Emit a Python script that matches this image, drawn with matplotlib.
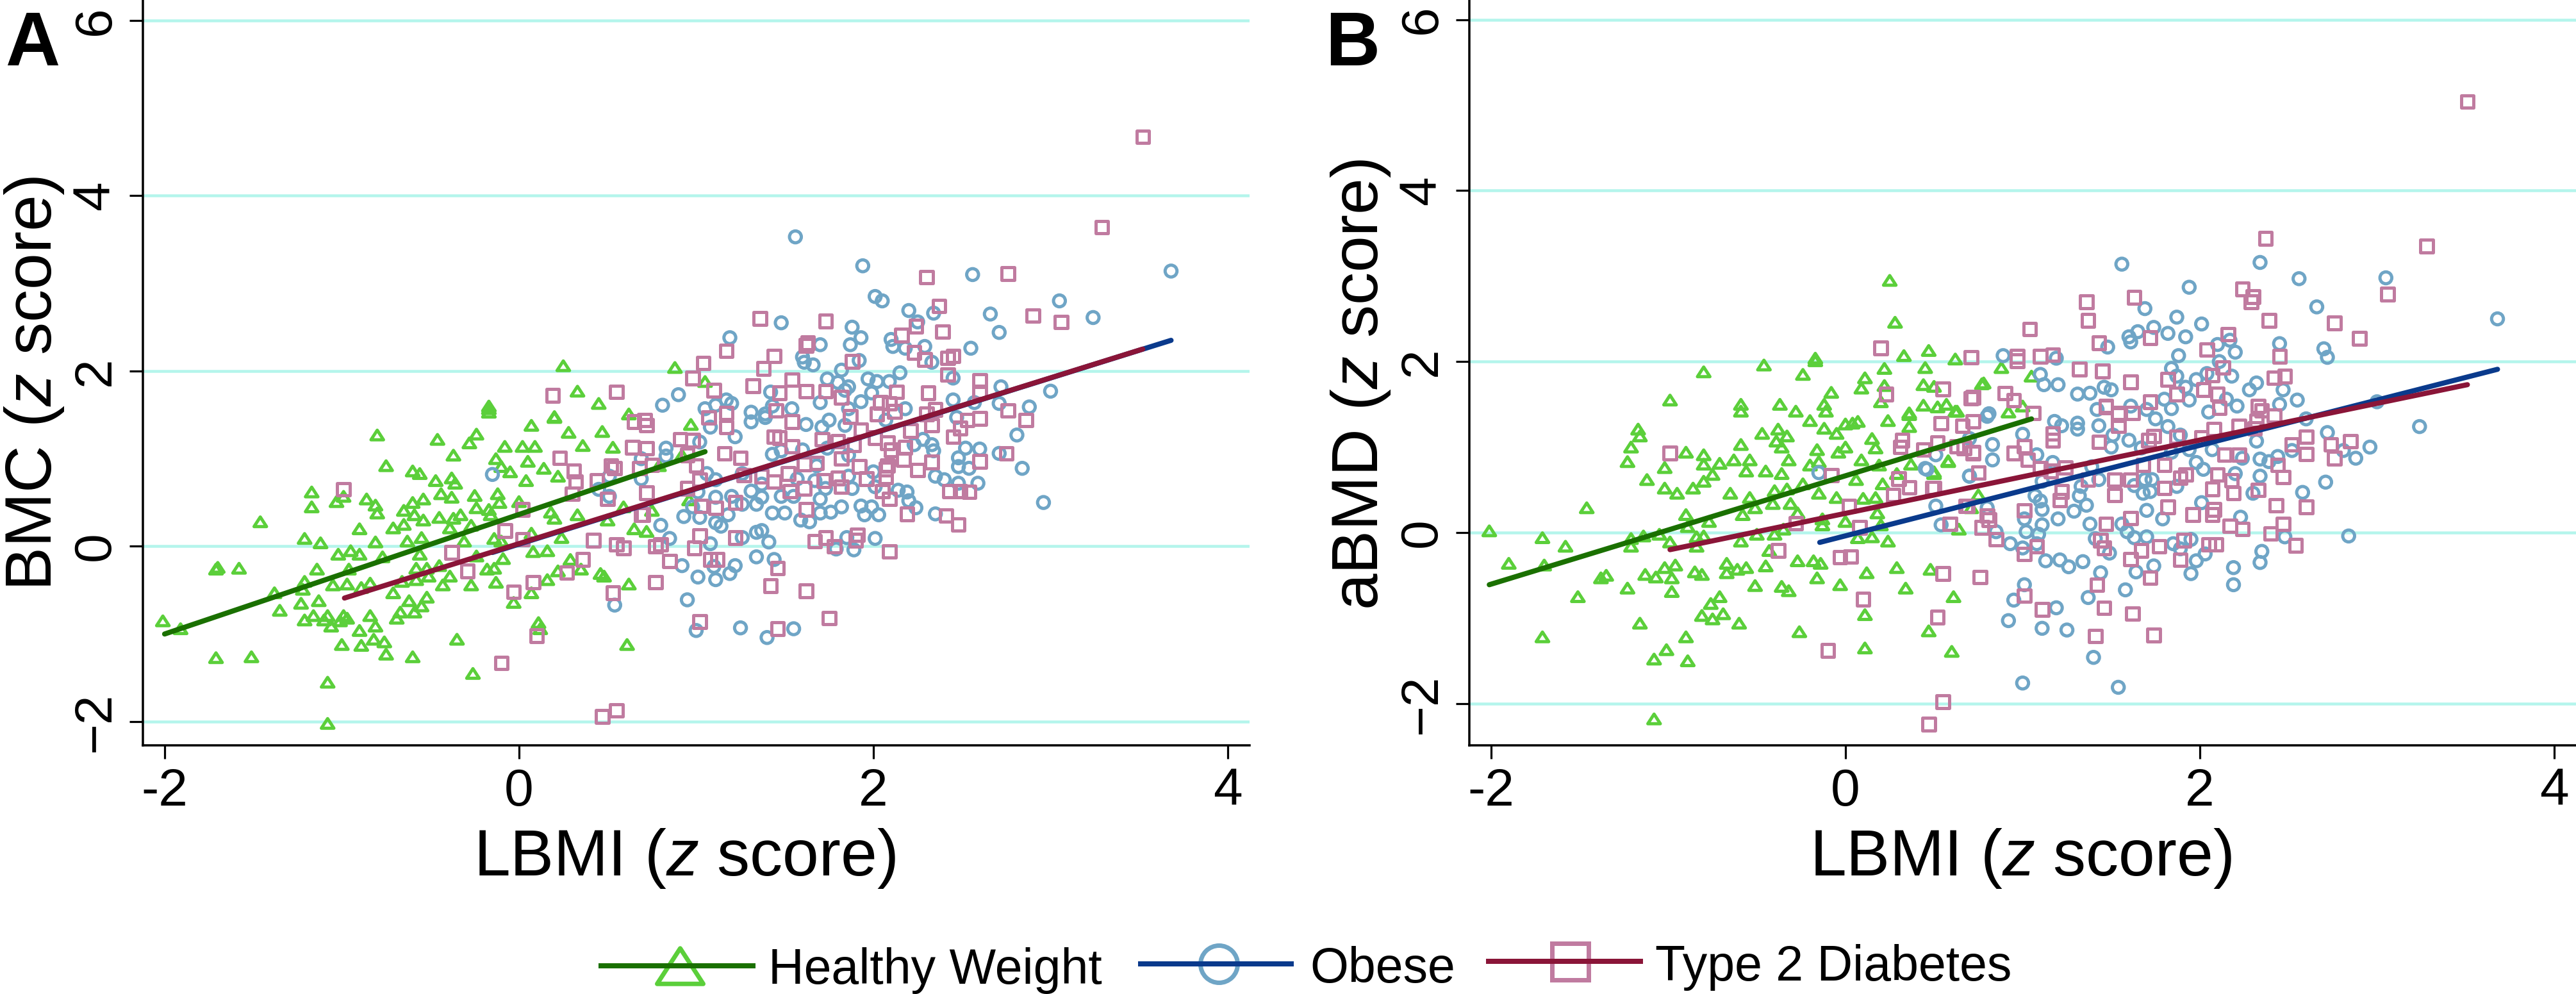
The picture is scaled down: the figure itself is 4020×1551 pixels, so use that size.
import numpy as np
import matplotlib
matplotlib.use("Agg")
import matplotlib.pyplot as plt
from matplotlib.lines import Line2D
from matplotlib.path import Path

# ---------- Panel A (LBMI z score, BMC z score) ----------
a_healthy = [(-2.01,-0.85),(-1.91,-0.94),(-1.70,-0.24),(-1.71,-0.26),(-1.58,-0.25),(-1.71,-1.27),(-1.51,-1.26),(-1.46,0.28),
(-1.21,0.09),(-1.12,0.04),(-1.38,-0.53),(-1.35,-0.73),(-1.22,-0.49),(-1.21,-0.40),(-1.23,-0.65),(-1.21,-0.84),(-1.13,-0.62),
(-1.16,-0.79),(-1.14,-0.26),(-1.17,0.62),(-1.17,0.45),(-1.03,0.51),(-0.99,0.57),(-0.80,1.27),(-0.75,0.92),(-0.86,0.54),
(-0.81,0.47),(-0.80,0.38),(-0.90,0.20),(-0.71,0.21),(-0.65,0.25),(-0.81,0.05),(-0.63,0.06),(-0.55,0.10),(-0.56,-0.09),
(-0.77,-0.12),(-0.90,-0.09),(-0.95,-0.05),(-1.02,-0.09),(-0.96,-0.26),(-0.97,-0.43),(-1.05,-0.44),(-0.84,-0.42),(-0.89,-0.47),
(-0.99,-0.79),(-1.08,-0.79),(-1.10,-0.84),(-1.06,-0.91),(-1.01,-0.85),(-0.97,-0.82),(-0.84,-0.79),(-0.81,-0.91),(-0.90,-0.96),
(-0.82,-1.06),(-0.76,-1.09),(-1.00,-1.12),(-0.89,-1.13),(-0.75,-1.23),(-0.60,-1.26),(-0.35,-1.06),(-0.26,-1.45),(-1.08,-1.55),
(-1.08,-2.02),(0.11,-0.87),(0.12,-0.94),(0.61,-1.12),(-0.60,0.86),(-0.56,0.83),(-0.46,1.22),(-0.37,1.04),(-0.28,1.18),
(-0.24,1.28),(-0.17,1.57),(-0.17,1.53),(-0.13,1.00),(-0.10,0.91),(-0.05,0.85),(-0.08,1.14),(0.02,1.14),(0.09,1.14),(0.05,0.97),
(0.07,1.38),(0.20,1.47),(0.28,1.30),(0.36,1.15),(0.47,1.31),(0.53,1.13),(0.62,1.51),(0.45,1.63),(0.33,1.77),(0.14,0.89),
(0.22,0.80),(0.04,0.75),(-0.47,0.75),(-0.38,0.78),(-0.36,0.72),(-0.44,0.60),(-0.38,0.56),(-0.25,0.58),(-0.12,0.60),(-0.54,0.54),
(-0.60,0.50),(-0.65,0.41),(-0.59,0.36),(-0.54,0.30),(-0.45,0.33),(-0.37,0.32),(-0.33,0.36),(-0.24,0.44),(-0.17,0.42),(-0.16,0.36),
(-0.11,0.50),(0.00,0.51),(0.18,0.39),(0.20,0.32),(0.33,0.36),(0.50,0.30),(0.59,0.45),(0.65,0.20),(-0.39,0.21),(-0.27,0.24),
(-0.31,0.06),(-0.14,0.09),(-0.10,0.06),(0.07,0.15),(0.24,0.10),(0.08,-0.06),(0.16,-0.05),(0.29,-0.15),(0.35,-0.26),(0.46,-0.31),
(0.48,-0.34),(0.62,-0.43),(0.22,-0.28),(0.16,-0.38),(0.07,-0.53),(-0.03,-0.64),(-0.13,-0.41),(-0.27,-0.44),(-0.43,-0.44),
(-0.39,-0.34),(-0.51,-0.34),(-0.58,-0.25),(-0.52,-0.25),(-0.45,-0.22),(-0.18,-0.26),(-0.14,-0.25),(-0.09,-0.14),(-0.24,-0.11),
(-0.58,-0.38),(-0.66,-0.40),(-0.71,-0.53),(-0.52,-0.58),(-0.62,-0.62),(-0.55,-0.68),(-0.59,-0.75),(-0.67,-0.75),(-0.69,-0.82),
(0.25,2.06),(-0.17,1.60),(0.20,1.48),(0.88,2.04),(1.05,1.88),(0.97,1.39),(0.92,1.04),(0.79,0.92),(0.75,0.41),(0.72,0.17),(0.96,0.53)]

a_obese = [(1.56,3.53),(1.94,3.20),(2.56,3.10),(3.68,3.14),(2.01,2.85),(2.05,2.80),(2.20,2.69),(2.34,2.66),(2.66,2.65),(3.05,2.80),
(3.24,2.61),(2.71,2.44),(2.25,2.56),(1.48,2.55),(1.19,2.38),(1.88,2.50),(1.93,2.38),(1.87,2.30),(1.70,2.30),(2.10,2.36),(2.11,2.28),
(2.18,2.26),(2.29,2.28),(2.55,2.26),(1.60,2.16),(1.61,2.10),(1.66,2.07),(1.92,2.12),(2.33,2.10),(1.82,2.01),(2.15,1.98),(1.74,1.91),
(2.45,1.92),(1.97,1.91),(2.02,1.88),(2.09,1.88),(1.86,1.82),(1.84,1.78),(1.80,1.87),(1.99,1.75),(2.72,1.82),(3.00,1.77),(1.42,1.76),
(0.90,1.73),(0.81,1.61),(1.17,1.67),(1.20,1.63),(1.70,1.64),(1.93,1.65),(2.45,1.67),(2.57,1.64),(2.71,1.63),(2.88,1.59),(1.05,1.57),
(1.11,1.61),(1.43,1.60),(1.54,1.57),(1.31,1.53),(2.18,1.57),(1.39,1.51),(1.86,1.57),(1.62,1.39),(1.31,1.42),(1.39,1.47),(1.08,1.36),
(1.22,1.25),(1.02,1.19),(0.83,1.12),(0.83,1.03),(1.75,1.44),(1.84,1.38),(1.71,1.36),(2.07,1.44),(2.47,1.47),(2.81,1.27),(2.60,1.11),
(2.71,1.06),(2.48,1.01),(2.52,1.12),(2.34,1.09),(2.33,1.16),(2.28,1.22),(2.23,1.16),(2.48,0.91),(2.54,0.89),(2.84,0.89),(2.35,0.80),
(2.40,0.76),(2.59,0.72),(2.48,0.72),(2.96,0.50),(2.19,0.62),(2.14,0.64),(2.20,0.52),(2.24,0.44),(2.35,0.37),(2.03,0.36),(1.99,0.45),
(1.93,0.46),(1.95,0.36),(1.82,0.45),(1.76,0.39),(1.70,0.38),(1.70,0.54),(1.64,0.28),(1.59,0.30),(1.50,0.38),(1.43,0.38),(1.34,0.48),
(1.26,0.48),(1.37,0.56),(1.31,0.63),(1.20,0.57),(1.11,0.56),(1.48,0.57),(1.55,0.57),(1.37,0.71),(1.26,0.83),(1.11,0.76),(1.06,0.83),
(1.01,0.62),(0.98,0.45),(0.93,0.34),(1.02,0.33),(1.18,0.36),(1.11,0.27),(1.14,0.23),(0.80,0.24),(0.85,0.09),(1.08,0.03),(1.26,0.10),
(1.34,0.16),(1.37,0.18),(1.41,0.05),(1.34,-0.12),(1.44,-0.15),(1.22,-0.22),(1.19,-0.31),(1.10,-0.23),(0.92,-0.22),(1.01,-0.35),
(1.11,-0.38),(0.95,-0.61),(1.00,-0.96),(1.25,-0.93),(1.40,-1.04),(1.55,-0.94),(1.89,-0.04),(1.79,-0.03),(1.85,0.10),(2.01,0.09),
(1.43,1.05),(1.48,1.09),(1.60,1.10),(1.74,1.12),(1.86,1.04),(1.68,0.92),(1.57,0.77),(1.67,0.75),(1.86,0.80),(2.00,0.85),(1.88,0.66),
(2.01,0.68),(1.73,0.66),(-0.15,0.82),(0.54,-0.67),(0.45,0.65),(0.51,0.57),(0.51,0.80),(0.69,0.77),(0.69,1.00)]

a_t2d = [(3.52,4.67),(3.29,3.64),(2.30,3.07),(2.76,3.11),(2.37,2.74),(2.90,2.63),(3.06,2.56),(1.36,2.60),(1.73,2.57),(2.24,2.51),
(2.39,2.45),(2.16,2.41),(1.63,2.32),(1.62,2.29),(1.17,2.23),(1.44,2.17),(1.04,2.09),(1.38,2.03),(0.98,1.92),(1.88,2.11),(2.23,2.21),
(2.29,2.13),(2.42,2.15),(2.45,2.17),(2.42,1.96),(2.60,1.89),(2.60,1.76),(1.54,1.90),(1.32,1.83),(1.47,1.75),(1.62,1.77),(1.73,1.77),
(1.82,1.70),(2.13,1.76),(2.31,1.75),(2.04,1.64),(2.09,1.63),(1.10,1.78),(1.45,1.55),(1.17,1.52),(1.07,1.47),(1.17,1.36),(1.54,1.42),
(1.87,1.48),(2.02,1.51),(2.12,1.54),(2.30,1.51),(2.35,1.56),(2.53,1.44),(2.60,1.46),(2.76,1.55),(2.86,1.44),(2.33,1.38),(2.49,1.35),
(2.45,1.25),(2.21,1.32),(1.93,1.33),(2.01,1.24),(1.89,1.16),(1.80,1.20),(1.71,1.22),(1.47,1.24),(1.44,1.25),(1.54,1.14),(2.08,1.18),
(2.10,1.10),(2.18,1.13),(2.17,0.99),(1.82,1.00),(1.68,0.95),(1.61,0.94),(1.92,0.91),(2.08,0.92),(2.07,0.88),(2.33,0.96),(2.60,0.97),
(2.75,1.06),(2.25,0.87),(2.07,0.79),(1.96,0.77),(1.80,0.78),(1.72,0.75),(1.52,0.83),(1.44,0.74),(1.37,0.80),(1.27,0.81),(1.25,1.01),
(1.16,1.06),(1.00,0.92),(1.02,0.76),(0.95,0.66),(0.91,1.22),(0.98,1.21),(0.95,1.04),(0.75,0.93),(0.72,1.12),(0.72,1.38),(0.71,1.44),
(0.72,0.61),(0.70,0.36),(1.03,0.46),(1.11,0.44),(1.22,0.50),(1.53,0.63),(1.61,0.66),(1.82,0.68),(2.05,0.63),(2.09,0.54),(1.62,0.42),
(2.19,0.37),(2.43,0.63),(2.49,0.63),(2.54,0.62),(2.41,0.35),(2.48,0.25),(1.02,0.12),(1.22,0.10),(0.80,0.02),(0.77,0.00),(0.99,-0.02),
(1.12,-0.15),(1.08,-0.15),(0.85,-0.17),(0.77,-0.41),(1.46,-0.25),(1.42,-0.45),(1.62,-0.51),(1.02,-0.86),(1.46,-0.94),(1.75,-0.82),
(1.73,0.10),(1.67,0.06),(1.78,0.00),(1.91,0.13),(1.90,0.07),(2.09,-0.06),(-0.99,0.65),(-0.38,-0.07),(-0.29,-0.28),(-0.08,0.18),
(0.02,0.42),(0.02,0.08),(-0.03,-0.52),(0.08,-0.41),(0.27,-0.30),(0.36,-0.15),(0.42,0.07),(0.55,0.02),(0.59,-0.02),(0.53,-0.53),
(0.10,-1.02),(-0.10,-1.33),(0.47,-1.94),(0.55,-1.87),(0.23,1.01),(0.31,0.86),(0.32,0.74),(0.30,0.60),(0.44,0.75),(0.50,0.54),
(0.52,0.92),(0.54,0.89),(0.65,1.42),(0.64,1.13),(0.68,0.89),(0.69,0.36),(0.19,1.72),(0.55,1.76)]

a_fit_x = {"healthy": [-2.0, 1.05], "obese": [-0.15, 3.68], "t2d": [-0.985, 3.52]}
a_fit_y = {"healthy": [-1.00, 1.08], "obese": [-0.07, 2.35], "t2d": [-0.59, 2.25]}

# ---------- Panel B (LBMI z score, aBMD z score) ----------
b_healthy = [(0.25,2.95),(0.28,2.46),(-0.17,2.04),(-0.17,2.01),(-0.46,1.96),(-0.80,1.88),(-0.24,1.85),(0.11,1.81),(0.09,1.69),
(-0.08,1.64),(-0.99,1.55),(-0.59,1.50),(-0.59,1.42),(-0.37,1.50),(-0.28,1.42),(-0.12,1.50),(-0.11,1.42),(0.22,1.92),(0.33,2.07),
(0.47,2.13),(0.62,2.03),(0.45,1.93),(0.22,1.72),(0.44,1.73),(0.50,1.71),(0.20,1.53),(0.44,1.49),(0.57,1.50),(0.52,1.47),(0.77,1.74),
(0.36,1.40),(0.63,1.42),(-2.01,0.02),(-1.90,-0.36),(-1.71,-0.06),(-1.70,-0.38),(-1.58,-0.16),(-1.46,0.29),(-1.38,-0.53),(-1.35,-0.50),
(-1.51,-0.75),(-1.71,-1.22),(-1.23,0.83),(-1.21,1.00),(-1.17,1.21),(-1.16,1.13),(-1.12,0.62),(-1.02,0.52),(-0.95,0.46),(-1.02,0.76),
(-0.90,0.94),(-0.86,0.52),(-0.80,0.91),(-0.80,0.80),(-0.80,0.60),(-0.75,0.68),(-0.71,0.81),(-0.63,0.85),(-0.59,1.03),(-0.54,0.85),
(-0.56,0.72),(-0.65,0.46),(-0.47,1.16),(-0.38,1.21),(-0.39,1.07),(-0.33,1.13),(-0.36,1.00),(-0.32,0.85),(-0.45,0.72),(-0.36,0.69),
(-0.20,1.31),(-0.12,1.22),(-0.05,1.16),(-0.16,0.97),(-0.04,0.94),(0.00,1.00),(0.00,1.27),(0.04,1.28),(0.07,1.30),(0.15,1.10),(0.17,0.99),
(0.24,1.31),(0.36,1.38),(0.36,1.24),(-0.20,0.79),(-0.15,0.83),(0.09,0.85),(0.19,0.79),(0.37,0.80),(0.50,0.71),(0.58,0.83),(0.06,0.62),
(0.21,0.57),(0.29,0.69),(-0.24,0.57),(-0.40,0.49),(-0.33,0.51),(-0.54,0.41),(-0.41,0.34),(-0.31,0.34),(-0.15,0.46),(-0.05,0.41),
(0.10,0.40),(0.17,0.41),(-0.58,0.21),(-0.51,0.29),(-0.90,0.21),(-0.77,0.13),(-0.89,0.07),(-0.27,0.23),(0.18,0.23),(0.00,0.13),
(-0.13,0.16),(-0.13,0.09),(0.20,0.09),(-1.14,-0.04),(-1.05,-0.02),(-1.21,-0.07),(-1.21,-0.16),(-0.99,-0.11),(-0.84,-0.16),(-0.84,-0.05),
(-0.80,-0.04),(-0.59,-0.10),(-0.50,-0.02),(-0.40,-0.02),(-0.35,0.04),(-0.43,-0.21),(0.07,-0.06),(0.15,-0.05),(0.24,-0.10),(-0.96,-0.38),
(-1.02,-0.41),(-1.13,-0.49),(-1.07,-0.52),(-0.98,-0.53),(-0.85,-0.46),(-0.81,-0.49),(-0.67,-0.36),(-0.67,-0.47),(-0.61,-0.43),
(-0.56,-0.41),(-0.45,-0.39),(-0.27,-0.33),(-0.18,-0.33),(-0.14,-0.36),(-0.16,-0.53),(0.12,-0.47),(0.29,-0.41),(0.48,-0.43),(-0.03,-0.61),
(0.34,-0.65),(0.61,-0.75),(-1.23,-0.65),(-0.98,-0.69),(-0.51,-0.62),(-0.36,-0.63),(-0.32,-0.68),(-0.71,-0.75),(-0.76,-0.83),(-0.81,-0.97),
(-0.69,-0.95),(-0.75,-1.01),(-0.60,-1.06),(-1.16,-1.06),(-0.90,-1.22),(-1.01,-1.37),(-1.08,-1.48),(-0.89,-1.50),(-0.26,-1.16),(0.11,-0.96),
(0.47,-1.15),(0.11,-1.35),(0.60,-1.39),(-1.08,-2.18),(0.88,1.93),(0.78,1.75),(1.05,1.83),(1.00,1.48),(0.92,1.41),(0.58,0.84),(0.75,0.44),
(0.71,0.29),(0.64,0.04),(0.62,1.42),(0.50,0.69)]

b_obese = [(3.68,2.50),(3.05,2.98),(2.56,2.97),(2.34,3.16),(1.56,3.14),(2.66,2.64),(1.94,2.87),(1.69,2.62),(1.87,2.52),(2.01,2.44),
(1.65,2.35),(1.74,2.40),(1.82,2.33),(1.92,2.29),(1.60,2.29),(1.61,2.23),(1.48,2.17),(2.45,2.21),(2.70,2.15),(2.72,2.05),(2.10,2.20),
(2.17,2.25),(2.20,2.11),(1.88,2.07),(0.89,2.07),(1.19,2.04),(2.11,2.00),(1.84,1.92),(1.10,1.85),(1.12,1.73),(1.20,1.73),(1.31,1.62),
(1.38,1.63),(1.46,1.70),(1.50,1.67),(1.87,1.83),(1.98,1.79),(1.92,1.70),(2.18,1.83),(2.04,1.86),(2.32,1.75),(2.28,1.67),(2.47,1.67),
(2.55,1.55),(3.00,1.53),(1.80,1.56),(1.94,1.55),(2.15,1.56),(2.21,1.48),(2.45,1.50),(1.84,1.45),(1.61,1.48),(1.42,1.44),(1.70,1.44),
(0.81,1.39),(2.05,1.41),(3.24,1.24),(2.72,1.17),(2.60,1.33),(2.96,1.00),(2.88,0.87),(2.81,0.96),(2.71,0.59),(2.58,0.47),(2.84,-0.04),
(2.48,-0.05),(2.35,-0.22),(2.34,-0.35),(2.19,-0.41),(2.19,-0.61),(1.95,-0.48),(1.74,-0.39),(1.64,-0.46),(1.44,-0.47),(1.58,-0.67),
(1.37,-0.76),(1.19,-0.88),(0.95,-0.79),(1.01,-0.61),(0.92,-1.03),(1.11,-1.12),(1.25,-1.14),(1.40,-1.46),(1.00,-1.76),(1.54,-1.81),
(1.13,-0.33),(1.21,-0.32),(1.26,-0.40),(1.34,-0.34),(0.93,-0.13),(1.00,-0.18),(1.08,-0.13),(0.85,0.01),(1.02,0.01),(1.09,-0.02),
(1.38,0.10),(1.41,-0.07),(1.49,-0.24),(1.59,0.01),(1.63,-0.06),(1.70,-0.05),(1.56,0.10),(1.85,-0.13),(1.89,-0.19),(1.95,-0.08),
(1.98,-0.33),(2.03,-0.25),(1.70,0.26),(1.79,0.16),(1.29,0.25),(1.36,0.32),(1.20,0.16),(1.11,0.27),(1.11,0.09),(1.01,0.16),(0.80,0.29),
(0.51,0.31),(0.54,0.09),(1.07,0.43),(1.10,0.37),(1.32,0.43),(1.33,0.54),(1.43,0.62),(1.63,0.55),(1.68,0.46),(1.72,0.48),(1.69,0.62),
(1.73,0.62),(1.87,0.54),(2.01,0.35),(2.23,0.18),(2.30,0.46),(2.34,0.66),(2.20,0.69),(2.02,0.74),(1.98,0.82),(1.84,0.94),(1.94,0.97),
(2.24,0.87),(2.34,0.86),(2.39,0.83),(2.44,0.89),(2.52,0.96),(2.32,1.07),(2.07,0.97),(1.60,1.08),(1.50,1.00),(1.67,0.99),(1.39,0.77),
(1.17,0.82),(1.11,0.60),(0.83,1.03),(0.83,0.85),(0.70,0.66),(1.00,1.15),(1.08,0.91),(1.18,1.30),(1.31,1.28),(1.31,1.21),(1.22,1.25),
(1.43,1.25),(1.51,1.14),(1.75,1.33),(1.82,1.24),(1.89,1.14),(0.46,0.74),(-0.15,0.70),(0.51,0.91),(0.45,0.75),(0.70,1.10),(0.70,0.66),(0.80,1.36)]

b_t2d = [(3.51,5.04),(3.28,3.35),(2.37,3.44),(2.24,2.85),(2.30,2.76),(2.29,2.70),(3.06,2.79),(1.36,2.70),(1.63,2.75),(1.37,2.48),
(2.39,2.48),(2.76,2.45),(1.04,2.38),(2.90,2.27),(2.16,2.32),(1.72,2.28),(1.43,2.22),(2.04,2.14),(2.45,2.06),(0.97,2.06),(0.97,2.01),
(1.10,2.06),(1.17,2.08),(0.71,2.05),(1.32,1.91),(1.45,1.89),(2.13,1.93),(2.48,1.83),(2.42,1.81),(2.07,1.84),(1.82,1.79),(1.61,1.76),
(0.90,1.63),(0.55,1.68),(0.71,1.57),(0.95,1.55),(2.02,1.67),(2.10,1.62),(1.87,1.62),(1.72,1.53),(1.47,1.48),(2.33,1.48),(2.35,1.43),
(2.11,1.46),(1.06,1.40),(1.54,1.40),(1.62,1.40),(2.42,1.37),(0.20,2.16),(0.23,1.62),(0.72,1.58),(-0.99,0.93),(-0.08,0.67),(0.32,1.08),
(0.31,1.00),(0.44,0.97),(0.52,1.05),(0.54,1.28),(0.66,1.25),(0.72,1.30),(0.63,1.01),(0.67,0.99),(0.72,0.94),(0.30,0.63),(0.36,0.53),
(0.27,0.44),(0.50,0.52),(0.75,0.70),(0.02,0.31),(-0.28,0.11),(0.08,0.06),(-0.38,-0.21),(-0.03,-0.29),(0.03,-0.28),(0.55,-0.48),
(0.76,-0.52),(0.10,-0.78),(0.52,-0.99),(-0.10,-1.38),(0.55,-1.98),(0.47,-2.24),(0.69,0.31),(0.59,0.10),(0.77,0.06),(0.80,0.20),
(1.01,1.01),(1.03,0.85),(0.95,0.93),(0.72,0.93),(1.17,1.08),(1.17,1.16),(1.43,1.06),(1.71,1.08),(1.74,1.13),(1.87,1.12),(2.01,1.11),
(2.08,1.21),(2.22,1.25),(2.31,1.22),(2.32,1.31),(1.54,1.25),(1.54,1.38),(1.47,1.47),(2.14,0.91),(2.22,0.91),(2.60,1.12),(2.52,1.03),
(2.60,0.92),(2.74,1.03),(2.76,0.87),(2.85,1.07),(2.44,0.79),(2.47,0.65),(1.68,0.79),(1.80,0.79),(1.89,0.64),(1.92,0.68),(2.10,0.68),
(2.18,0.61),(2.07,0.51),(2.19,0.46),(2.33,0.50),(1.80,0.52),(1.61,0.62),(1.52,0.62),(1.37,0.62),(1.52,0.44),(1.24,0.76),(1.16,0.72),
(1.10,0.75),(1.22,0.48),(1.21,0.38),(1.01,0.26),(0.75,0.70),(0.49,0.52),(0.68,0.31),(0.81,0.15),(0.59,0.10),(0.77,0.06),(0.85,-0.08),
(1.01,-0.25),(1.08,-0.16),(1.44,-0.09),(1.46,-0.18),(1.47,0.10),(1.61,0.17),(1.82,0.30),(1.96,0.21),(2.07,0.21),(2.08,0.27),(2.17,0.08),
(2.24,0.04),(2.40,-0.01),(2.47,0.10),(2.43,0.32),(2.60,0.30),(2.54,-0.15),(1.67,-0.21),(1.61,-0.31),(1.77,-0.16),(1.91,-0.09),(2.05,-0.14),
(2.09,-0.14),(1.89,-0.32),(1.72,-0.53),(1.42,-0.61),(1.46,-0.88),(1.62,-0.95),(1.11,-0.90),(1.01,-0.74),(1.41,-1.21),(1.74,-1.20)]

b_fit_x = {"healthy": [-2.01, 1.05], "obese": [-0.145, 3.68], "t2d": [-0.99, 3.51]}
b_fit_y = {"healthy": [-0.61, 1.33], "obese": [-0.115, 1.91], "t2d": [-0.20, 1.73]}

x_ticks = [-2, 0, 2, 4]
y_ticks = [-2, 0, 2, 4, 6]
group_names = ["Healthy Weight", "Obese", "Type 2 Diabetes"]

# ---------- Styles ----------
W, H, DPI = 4020, 1551, 100
PX = 72 / DPI  # points per pixel
plt.rcParams["font.family"] = ["Liberation Sans", "DejaVu Sans"]
plt.rcParams["mathtext.fontset"] = "custom"
plt.rcParams["mathtext.rm"] = "Liberation Sans"
plt.rcParams["mathtext.it"] = "Liberation Sans:italic"

MK = {"healthy": "#5BCF3A", "obese": "#6FA5C6", "t2d": "#C07BA0"}
LN = {"healthy": "#1A7000", "obese": "#0A3A8C", "t2d": "#8A1538"}
GRID = "#B4F5EC"

# Wide triangle: the reference's markers are wider than they are tall
TRI = Path([(-1, -0.77), (1, -0.77), (0, 0.77), (-1, -0.77)], closed=True)

fig = plt.figure(figsize=(W / DPI, H / DPI), dpi=DPI, facecolor="white")


def make_axes(left, right, top, bottom):
    return fig.add_axes([left / W, 1 - bottom / H, (right - left) / W, (bottom - top) / H])


def draw_panel(ax, ylim, healthy, obese, t2d, fx, fy):
    ax.set_xlim(-2.124, 4.123)
    ax.set_ylim(*ylim)
    for t in y_ticks:
        ax.axhline(t, color=GRID, lw=4.5 * PX, zorder=1)
    for pts, key, marker, size in ((healthy, "healthy", TRI, 19.5), (obese, "obese", "o", 18.5), (t2d, "t2d", "s", 19.5)):
        arr = np.array(pts)
        ax.scatter(arr[:, 0], arr[:, 1], marker=marker, s=(size * PX) ** 2, facecolors="none",
                   edgecolors=MK[key], linewidths=5 * PX, zorder=3, clip_on=False)
    for key in ("healthy", "obese", "t2d"):
        ax.plot(fx[key], fy[key], color=LN[key], lw=8 * PX, solid_capstyle="round", zorder=4)
    for s in ("top", "right"):
        ax.spines[s].set_visible(False)
    for s in ("left", "bottom"):
        ax.spines[s].set_linewidth(3.5 * PX)
    ax.set_xticks(x_ticks)
    ax.set_yticks(y_ticks)
    ax.set_xticklabels(["-2", "0", "2", "4"])
    ax.tick_params(axis="both", length=21 * PX, width=3.2 * PX, labelsize=82 * PX, pad=14 * PX)
    for lab in ax.get_yticklabels():
        lab.set_rotation(90)
        lab.set_va("center")
    ax.set_facecolor("none")


ax_a = make_axes(222.6, 1950, 0, 1163)
draw_panel(ax_a, (-2.27, 6.232), a_healthy, a_obese, a_t2d, a_fit_x, a_fit_y)
ax_b = make_axes(2292.6, 4020, 0, 1163)
draw_panel(ax_b, (-2.489, 6.23), b_healthy, b_obese, b_t2d, b_fit_x, b_fit_y)


def px_text(x, y, s, size, **kw):
    return fig.text(x / W, 1 - y / H, s, fontsize=size * PX, **kw)


# Axis titles
Z = r"($\mathit{z}$ score)"
px_text(1068, 1366, "LBMI " + Z, 102, ha="center", va="baseline")
px_text(3153, 1366, "LBMI " + Z, 102, ha="center", va="baseline")
px_text(80, 598, "BMC " + Z, 102, rotation=90, ha="center", va="baseline", rotation_mode="anchor")
px_text(2150, 600, "aBMD " + Z, 102, rotation=90, ha="center", va="baseline", rotation_mode="anchor")

# Panel letters
px_text(8, 102, "A", 118, fontweight="bold", va="baseline")
px_text(2068, 102, "B", 118, fontweight="bold", va="baseline")

# Legend
entries = [
    (group_names[0], "healthy", TRI, 934, 1179, 1507, 1061, 72, 1199, 1535),
    (group_names[1], "obese", "o", 1776, 2019, 1504, 1902, 58, 2044, 1533),
    (group_names[2], "t2d", "s", 2319, 2564, 1500, 2450, 57, 2583, 1530),
]
for name, key, mk, x0, x1, yl, xm, ms, xt, yt in entries:
    fig.add_artist(Line2D([xm / W], [1 - yl / H], transform=fig.transFigure, marker=mk, markersize=ms * PX,
                          markerfacecolor="none", markeredgecolor=MK[key], markeredgewidth=7 * PX, zorder=4, linestyle="none"))
    fig.add_artist(Line2D([x0 / W, x1 / W], [1 - yl / H] * 2, transform=fig.transFigure,
                          color=LN[key], lw=8 * PX, solid_capstyle="butt", zorder=5))
    px_text(xt, yt, name, 77, va="baseline")

fig.savefig("out.png", dpi=DPI, facecolor="white")
